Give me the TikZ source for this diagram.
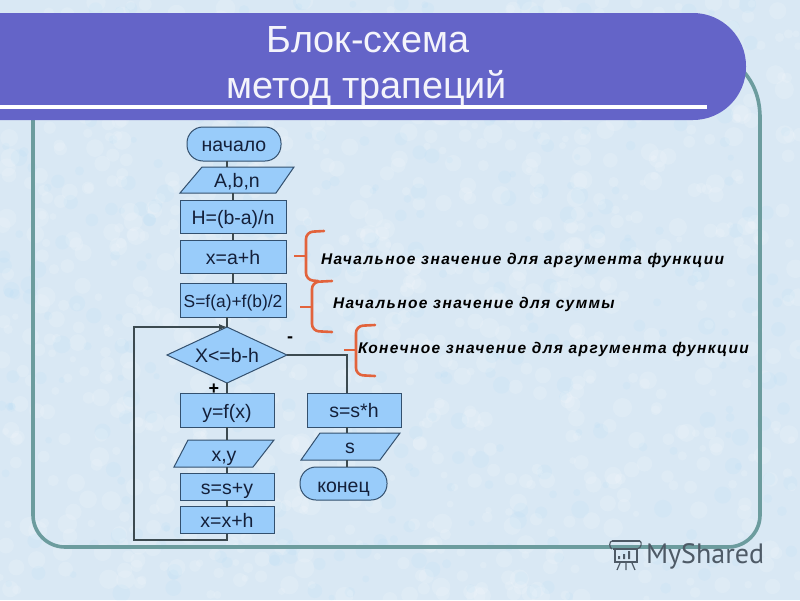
\documentclass[tikz,border=0pt]{standalone}
\usepackage{fontspec}
\setmainfont{Liberation Sans}
\newfontfamily\noteface[LetterSpace=9]{Liberation Sans}
\newfontfamily\markface{PT Sans}
\usetikzlibrary{shapes.geometric,arrows.meta}
\definecolor{bgblue}{HTML}{D9E8F4}
\definecolor{barblue}{HTML}{6464C8}
\definecolor{frameteal}{HTML}{6C9C9E}
\definecolor{boxblue}{HTML}{99CCFA}
\definecolor{edgeblue}{HTML}{33506E}
\definecolor{linegray}{HTML}{3C4A50}
\definecolor{bracered}{HTML}{E2633C}
\definecolor{inkdark}{HTML}{14203A}
\definecolor{markgray}{HTML}{4E5A66}
\tikzset{
  every node/.style={font=\fontsize{19.5}{21}\selectfont, text=inkdark, inner sep=0pt, outer sep=0pt, text height=15pt, text depth=0pt},
  procbox/.style={draw=edgeblue, line width=1pt, fill=boxblue, rectangle},
  termbox/.style={draw=edgeblue, line width=1pt, fill=boxblue, rectangle, rounded corners=16pt},
  slantbox/.style={draw=edgeblue, line width=1pt, fill=boxblue},
  decbox/.style={draw=edgeblue, line width=1pt, fill=boxblue, diamond, aspect=2.14},
  flow/.style={draw=linegray, line width=1.1pt},
  brace/.style={draw=bracered, line width=2.6pt, line cap=round, rounded corners=7pt},
  bracetip/.style={draw=bracered, line width=2.4pt},
  note/.style={anchor=base west, text height=, font=\fontsize{15.5}{17}\selectfont\noteface\bfseries\itshape, text=black},
  titletext/.style={anchor=base, text height=, font=\fontsize{37.8}{42}\selectfont, text=white!93!barblue},
  signtext/.style={text height=, font=\fontsize{18}{18}\selectfont\bfseries, text=black},
  watermark/.style={draw=markgray, line width=1.2pt}
}
\begin{document}
\begin{tikzpicture}[x=1pt,y=-1pt]
\useasboundingbox (0,0) rectangle (800,600);
\fill[bgblue] (0,0) rectangle (800,600);
% mottled paper texture of the background
\pgfmathsetseed{7}
\foreach \i in {1,...,900}{
  \pgfmathsetmacro{\mx}{rnd*800}
  \pgfmathsetmacro{\my}{rnd*600}
  \pgfmathsetmacro{\mr}{3+rnd*7}
  \fill[white, opacity=0.14] (\mx,\my) circle[radius=\mr pt];
}
\foreach \i in {1,...,400}{
  \pgfmathsetmacro{\mx}{rnd*800}
  \pgfmathsetmacro{\my}{rnd*600}
  \pgfmathsetmacro{\mr}{3+rnd*6}
  \fill[blue!30!cyan, opacity=0.025] (\mx,\my) circle[radius=\mr pt];
}
% frame
\draw[frameteal, line width=3.6pt, rounded corners=32pt] (33,100) -- (33,547) -- (760,547) -- (760,300);
\draw[frameteal, line width=3.6pt] (760,300) -- (760,118) .. controls (760,100) and (755,85) .. (744,72);
% title bar
\fill[barblue, rounded corners=53pt] (-70,13) -- (746,13) -- (746,120) -- (-70,120) -- cycle;
\fill[white] (0,105) rectangle (707,108.5);
\node[titletext] (t1) at (368,52) {Блок-схема};
\node[titletext] (t2) at (367,98) {метод трапеций};
% flowchart shapes
\path[slantbox] (202,167) -- (294,167) -- (276,193) -- (180,193) -- cycle;
\node (abn) at (237,180) [minimum width=70pt, minimum height=26pt] {A,b,n};
\path[slantbox] (188,440) -- (274,440) -- (253,467) -- (174,467) -- cycle;
\node (xy) at (224,454) [minimum width=60pt, minimum height=27pt] {x,y};
\path[slantbox] (320,433) -- (400,433) -- (380,460) -- (301,460) -- cycle;
\node (sout) at (350,446) [minimum width=50pt, minimum height=27pt, text height=14pt] {s};
\node[termbox, minimum width=94pt, minimum height=34pt] (start) at (234,144) {начало};
\node[procbox, minimum width=106pt, minimum height=33pt] (hbox) at (233,216.5) {H=(b-a)/n};
\node[procbox, minimum width=106pt, minimum height=33pt] (xinit) at (233,256.5) {x=a+h};
\node[procbox, minimum width=106pt, minimum height=34pt, font=\fontsize{17.4}{19}\selectfont] (sinit) at (233,300) {S=f(a)+f(b)/2};
\node[decbox, minimum width=120pt, minimum height=56pt] (test) at (227,355) {X<=b-h};
\node[procbox, minimum width=94pt, minimum height=34pt, text height=17pt] (yf) at (227,410) {y=f(x)};
\node[procbox, minimum width=94pt, minimum height=27pt] (ss) at (227,486.5) {s=s+y};
\node[procbox, minimum width=94pt, minimum height=27pt] (xx) at (227,520) {x=x+h};
\node[procbox, minimum width=94pt, minimum height=34pt] (sh) at (354,410) {s=s*h};
\node[termbox, minimum width=87pt, minimum height=33pt, text height=18pt] (stop) at (343.5,483.5) {конец};
% connectors
\coordinate (fbA) at (227,540);
\coordinate (fbB) at (134,540);
\coordinate (noC) at (347,355);
\draw[flow] (227,160.5) -- (227,167);
\draw[flow] (233,193) -- (hbox.north);
\draw[flow] (hbox.south) -- (xinit.north);
\draw[flow] (xinit.south) -- (sinit.north);
\draw[flow] (227,317) -- (test.north);
\draw[flow] (test.south) -- (yf.north);
\draw[flow] (yf.south) -- (227,440);
\draw[flow] (227,467) -- (ss.north);
\draw[flow] (ss.south) -- (xx.north);
\draw[flow, -{Latex[length=8pt,width=6pt]}] (xx.south) -- (fbA) -- (fbB) -- (fbB |- test.north) -- (test.north);
\draw[flow] (test.east) -- (noC) -- (noC |- sh.north);
\draw[flow] (347,427) -- (347,433);
\draw[flow] (347,460) -- (347,467);
\node[signtext] (minus) at (290,340) {-};
\node[signtext] (plus) at (214,389) {+};
% braces
\draw[brace] (324,231) -- (306,232) -- (306,280) -- (318,281);
\draw[bracetip] (294,256) -- (306,256);
\draw[brace] (332,281) -- (312,282) -- (312,331) -- (332,332);
\draw[bracetip] (300,307) -- (312,307);
\draw[brace] (375,325) -- (356,326) -- (356,375) -- (375,376);
\draw[bracetip] (344,350) -- (356,350);
\node[note] (n1) at (321,264) {Начальное значение для аргумента функции};
\node[note] (n2) at (333,308) {Начальное значение для суммы};
\node[note] (n3) at (358,353) {Конечное значение для аргумента функции};
% watermark
\draw[watermark] (612,541) -- (640,541);
\draw[watermark] (613,549) -- (637,549) -- (637,562) -- (615,562) -- (615,549);
\draw[watermark] (612,541) .. controls (609,541) and (609,548) .. (612,549);
\draw[watermark] (640,541) .. controls (642,542) and (642,548) .. (637,549);
\fill[markgray] (618,556) rectangle (620,559) (623,554) rectangle (625,559) (628,551) rectangle (630,559);
\draw[watermark] (620,563) -- (617,570) (626,563) -- (626,570) (632,563) -- (635,570);
\node[anchor=base west, text height=, font=\fontsize{28}{30}\selectfont\markface, text=markgray] (mark) at (646,563) {MyShared};
\end{tikzpicture}
\end{document}
